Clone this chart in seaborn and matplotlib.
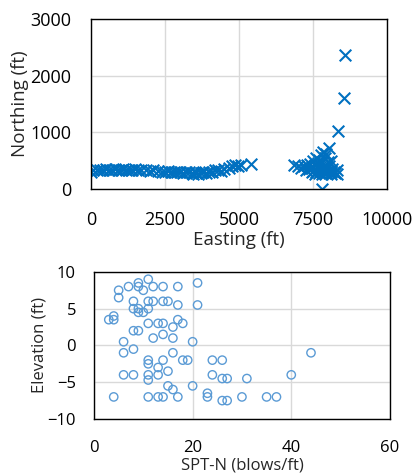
import matplotlib
matplotlib.use("Agg")
import matplotlib.pyplot as plt
import seaborn as sns
import pandas as pd

# Top chart: boring locations
easting = [0, 80, 200, 300, 400, 500, 600, 700, 800, 900, 1000, 1100, 1200, 1300,
           1400, 1500, 1600, 1700, 1850, 2000, 2100, 2250, 2400, 2500, 2600, 2700,
           2800, 2900, 3000, 3100, 3200, 3300, 3400, 3450, 3500, 3550, 3600, 3700,
           3800, 3900, 4000, 4100, 4200, 4300, 4400, 4500, 4650, 4750, 4850, 4950,
           5050, 5400,
           6850, 7000, 7100, 7200, 7250, 7300, 7350, 7400, 7450, 7450, 7500, 7500,
           7550, 7550, 7600, 7600, 7650, 7650, 7700, 7700, 7700, 7750, 7750, 7800,
           7800, 7800, 7850, 7850, 7850, 7900, 7900, 7950, 7950, 7950, 8000, 8000,
           8050, 8050, 8100, 8100, 8100, 8150, 8200, 8250, 8300, 8300, 8340, 8540,
           8560]
northing = [310, 330, 340, 345, 340, 350, 345, 340, 350, 345, 340, 350, 345, 340,
            345, 350, 340, 335, 330, 320, 330, 320, 310, 300, 320, 300,
            310, 300, 310, 290, 300, 300, 290, 270, 300, 280, 270, 290,
            300, 280, 300, 310, 330, 340, 320, 360, 380, 400, 420, 410,
            430, 440,
            420, 410, 380, 400, 330, 420, 350, 450, 380, 300, 320, 500,
            420, 260, 300, 550, 380, 460, 280, 420, 520, 350, 600, 260,
            480, 10, 380, 300, 650, 420, 550, 350, 280, 620, 480, 320,
            720, 400, 300, 260, 500, 350, 300, 280, 330, 260, 1030, 1600,
            2370]

# Bottom chart: SPT-N vs elevation
spt_n = [11, 21, 9, 7, 9, 12, 14, 17, 5, 10, 5, 8, 11, 12, 14, 15, 17, 21, 8, 9,
         11, 9, 10, 4, 3, 4, 17, 11, 13, 14, 18, 16, 8, 9, 14, 12, 16, 6, 20, 8,
         6, 16, 44, 11, 14, 18, 19, 24, 26, 11, 13, 15, 6, 8, 11, 13, 24, 40,
         26, 27, 31, 11, 15, 20, 16, 23, 4, 11, 13, 14, 17, 23, 30, 35, 37, 26, 27]
elevation = [9, 8.5, 8.5, 8, 8, 8, 8, 8, 7.5, 7.5, 6.5, 6, 6, 6, 6, 6, 5.5, 5.5, 5, 5,
             5, 4.5, 4.5, 4, 3.5, 3.5, 3.5, 3, 3, 3, 3, 2.5, 2, 2, 1.5, 1, 1, 0.5, 0.5, -0.5,
             -1, -1, -1, -2, -2, -2, -2, -2, -2, -2.5, -3, -3.5, -4, -4, -4, -4, -4, -4,
             -4.5, -4.5, -4.5, -4.7, -5.5, -5.5, -6, -6.5, -7, -7, -7, -7, -7, -7, -7, -7, -7, -7.5, -7.5]

top_df = pd.DataFrame({"Easting": easting, "Northing": northing})
bot_df = pd.DataFrame({"SPT": spt_n, "Elev": elevation})

sns.set_theme(style="whitegrid")
plt.rcParams["font.family"] = ["Open Sans", "DejaVu Sans"]

fig = plt.figure(figsize=(4.15, 4.73), dpi=100)
ax1 = fig.add_axes([0.219, 0.600, 0.714, 0.360])
ax2 = fig.add_axes([0.2265, 0.1142, 0.713, 0.311])

sns.scatterplot(data=top_df, x="Easting", y="Northing", ax=ax1, marker="x",
                color="#0070C0", s=70, linewidth=1.5, legend=False)
sns.scatterplot(data=bot_df, x="SPT", y="Elev", ax=ax2, marker="o",
                s=36, legend=False)
coll = ax2.collections[0]
coll.set_facecolor("none")
coll.set_edgecolor("#5B9BD5")
coll.set_linewidth(1.0)

ax1.set_xlim(0, 10000)
ax1.set_ylim(0, 3000)
ax1.set_xticks([0, 2500, 5000, 7500, 10000])
ax1.set_yticks([0, 1000, 2000, 3000])
ax1.set_xlabel("Easting (ft)", fontsize=13.5, labelpad=1)
ax1.set_ylabel("Northing (ft)", fontsize=13.5, labelpad=1)

ax2.set_xlim(0, 60)
ax2.set_ylim(-10, 10)
ax2.set_xticks([0, 20, 40, 60])
ax2.set_yticks([-10, -5, 0, 5, 10])
ax2.set_xlabel("SPT-N (blows/ft)", fontsize=12, labelpad=1)
ax2.set_ylabel("Elevation (ft)", fontsize=12, labelpad=0)

ax1.tick_params(axis="both", length=0, labelsize=13, colors="#000000")
ax1.tick_params(axis="y", pad=14)
ax1.tick_params(axis="x", pad=16)
ax2.tick_params(axis="both", length=0, labelsize=12, colors="#000000")
ax2.tick_params(axis="y", pad=13)
ax2.tick_params(axis="x", pad=15)

for ax in (ax1, ax2):
    ax.grid(True, color="#D9D9D9", linewidth=1)
    for sp in ax.spines.values():
        sp.set_color("#000000")
        sp.set_linewidth(1)
    ax.set_facecolor("white")

fig.savefig("out.png", dpi=100)
